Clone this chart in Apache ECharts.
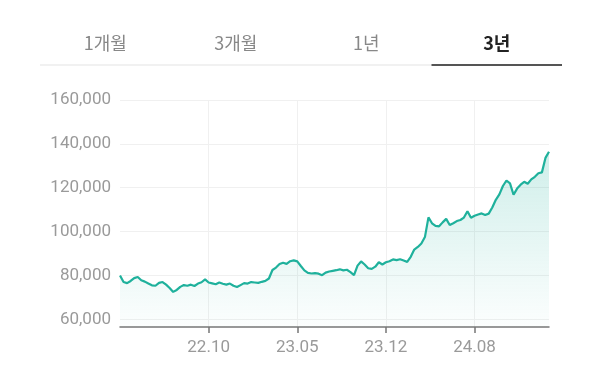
<!DOCTYPE html>
<html>
<head>
<meta charset="utf-8">
<script src="https://cdn.jsdelivr.net/npm/echarts@6/dist/echarts.min.js"></script>
<style>
html,body{margin:0;padding:0;background:#fff;}
#chart{width:600px;height:389px;}
</style>
</head>
<body>
<div id="chart"></div>
<script>
const tabs = ['1개월', '3개월', '1년', '3년'];
const activeTab = 3;

const categories = (
  '22.03 22.03 22.03 22.03 22.04 22.04 22.04 22.04 22.05 22.05 22.05 22.06 22.06 22.06 22.06 22.07 22.07 22.07 22.08 22.08 22.08 22.08 22.09 22.09 22.09 ' +
  '22.10 22.10 22.10 22.10 22.11 22.11 22.11 22.12 22.12 22.12 22.12 23.01 23.01 23.01 23.02 23.02 23.02 23.02 23.03 23.03 23.03 23.04 23.04 23.04 23.04 ' +
  '23.05 23.05 23.05 23.05 23.06 23.06 23.06 23.07 23.07 23.07 23.07 23.08 23.08 23.08 23.09 23.09 23.09 23.09 23.10 23.10 23.10 23.11 23.11 23.11 23.11 ' +
  '23.12 23.12 23.12 24.01 24.01 24.01 24.02 24.02 24.02 24.03 24.03 24.03 24.04 24.04 24.04 24.05 24.05 24.05 24.05 24.06 24.06 24.06 24.07 24.07 24.07 ' +
  '24.08 24.08 24.08 24.09 24.09 24.09 24.10 24.10 24.10 24.11 24.11 24.11 24.12 24.12 24.12 24.12 25.01 25.01 25.01 25.02 25.02 25.02'
).split(' ');

const prices = [
  80000, 77000, 76500, 77500, 78800, 79300, 77800, 77200, 76300, 75500,
  75300, 76600, 77000, 75800, 74300, 72500, 73400, 74800, 75600, 75300,
  75800, 75200, 76300, 76900, 78200, 76800, 76400, 76000, 76800, 76200,
  75800, 76300, 75300, 74700, 75600, 76500, 76300, 77000, 76800, 76600,
  77100, 77500, 78600, 82500, 83600, 85200, 85800, 85300, 86500, 86900,
  86400, 84300, 82300, 81200, 80900, 81100, 80800, 80100, 81300, 81800,
  82100, 82400, 82800, 82300, 82600, 81500, 80200, 84500, 86400, 85000,
  83300, 83000, 84000, 86000, 85000, 86000, 86500, 87300, 87000, 87400,
  86800, 86200, 88500, 91800, 93000, 94600, 97500, 106500, 103800, 102600,
  102400, 104200, 105800, 103000, 103800, 104800, 105300, 106400, 109300, 106300,
  107200, 107800, 108300, 107600, 108200, 111000, 114500, 117000, 120800, 123300,
  122000, 116800, 119600, 121400, 122700, 121800, 123800, 125000, 126600, 127000,
  133600, 136400
];

const xTickIndex = [25, 50, 75, 100];
const yTickValues = [60000, 80000, 100000, 120000, 140000, 160000];

const chart = echarts.init(document.getElementById('chart'), null, {renderer: 'canvas'});

const tabLeft = 40, tabRight = 562, tabY = 65;
const tabW = (tabRight - tabLeft) / tabs.length;
const graphics = [
  {type: 'line', shape: {x1: tabLeft, y1: tabY, x2: tabRight, y2: tabY}, style: {stroke: '#e3e3e3', lineWidth: 1}, z: 10},
  {type: 'line', shape: {x1: tabLeft + tabW * activeTab, y1: tabY, x2: tabLeft + tabW * (activeTab + 1), y2: tabY}, style: {stroke: '#222', lineWidth: 1.5}, z: 11}
];
tabs.forEach((t, i) => {
  graphics.push({
    type: 'text',
    x: tabLeft + tabW * (i + 0.5),
    y: 43,
    style: {
      text: t,
      fill: i === activeTab ? '#222' : '#888',
      font: (i === activeTab ? 'bold ' : '') + '18px "Noto Sans CJK KR", "Noto Sans", sans-serif',
      align: 'center',
      verticalAlign: 'middle'
    },
    z: 10
  });
});

const tickFn = (idx) => xTickIndex.indexOf(idx) >= 0;

chart.setOption({
  animation: false,
  graphic: graphics,
  grid: {left: 120, right: 51, top: 100, bottom: 62},
  xAxis: {
    type: 'category',
    data: categories,
    boundaryGap: false,
    axisLine: {show: true, lineStyle: {color: '#777', width: 1.5}},
    axisTick: {show: true, interval: tickFn, length: 6, lineStyle: {color: '#777', width: 1.5}},
    axisLabel: {interval: tickFn, color: '#9a9a9a', fontSize: 17, margin: 12, fontFamily: 'Roboto, "Noto Sans", sans-serif'},
    splitLine: {show: true, interval: tickFn, lineStyle: {color: '#f0f0f0', width: 1}}
  },
  yAxis: {
    type: 'value',
    min: 56500,
    max: 160000,
    axisLine: {show: false},
    axisTick: {show: false, customValues: yTickValues},
    axisLabel: {
      customValues: yTickValues,
      color: '#9a9a9a', fontSize: 17, margin: 9,
      fontFamily: 'Roboto, "Noto Sans", sans-serif',
      formatter: (v) => v.toLocaleString('en-US')
    },
    splitLine: {show: true, lineStyle: {color: '#f0f0f0', width: 1}}
  },
  series: [{
    type: 'line',
    data: prices,
    symbol: 'none',
    lineStyle: {color: '#1fb19c', width: 2.2},
    itemStyle: {color: '#1fb19c'},
    areaStyle: {
      color: new echarts.graphic.LinearGradient(0, 0, 0, 1, [
        {offset: 0, color: 'rgba(31,177,156,0.3)'},
        {offset: 1, color: 'rgba(31,177,156,0.02)'}
      ])
    }
  }]
});
</script>
</body>
</html>
